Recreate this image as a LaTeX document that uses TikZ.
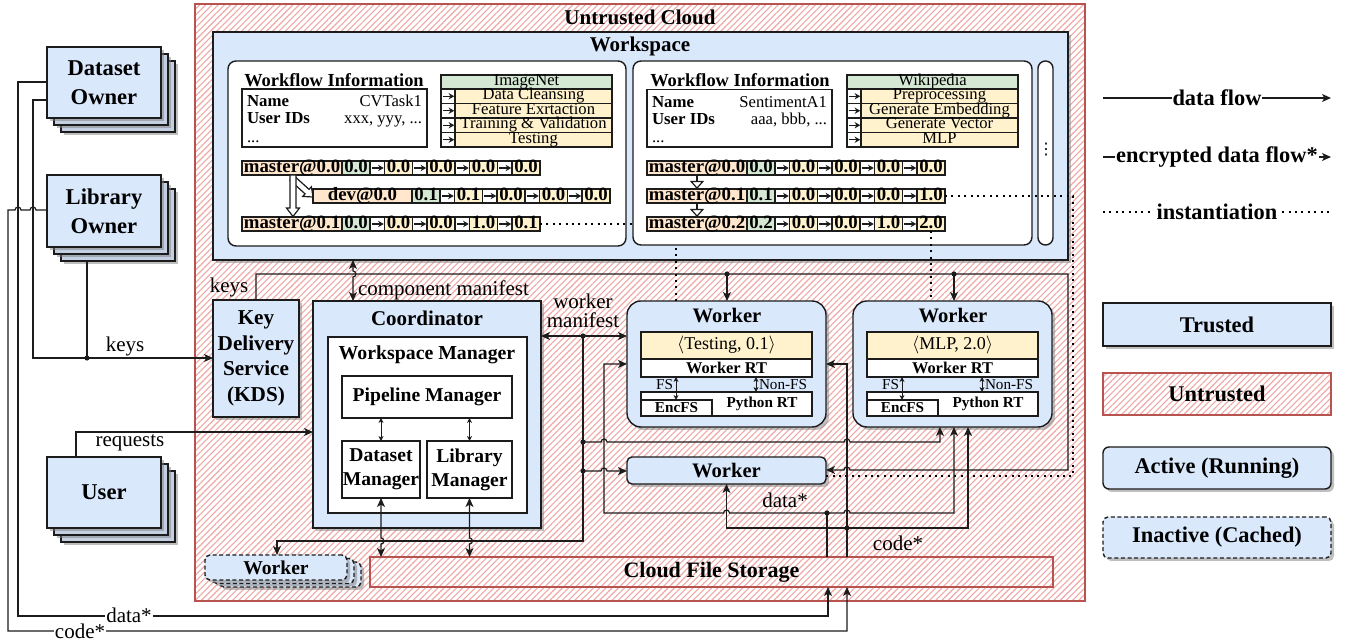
\documentclass[tikz,border=0pt]{standalone}
\usepackage{fontspec}
\setmainfont{Liberation Serif}
\newfontfamily\dvs{DejaVu Sans}
\usetikzlibrary{arrows.meta,shadows,patterns.meta}
\definecolor{blueF}{HTML}{DAE8FC}
\definecolor{redL}{HTML}{B85450}
\definecolor{hatchC}{HTML}{EFA8A5}
\definecolor{greenF}{HTML}{D5E8D4}
\definecolor{yellowF}{HTML}{FFF2CC}
\definecolor{peachF}{HTML}{FFE6CC}
\definecolor{stackF}{HTML}{C4D0E2}
\definecolor{lineC}{HTML}{1C1C1C}
\tikzset{
  every node/.style={inner sep=0pt, outer sep=0pt},
  bx/.style n args={4}{at={({((#1)+(#3))/2},{((#2)+(#4))/2})}, minimum width={((#3)-(#1))*0.5pt}, minimum height={((#4)-(#2))*0.5pt}},
  ln/.style={draw=lineC, line width=0.6pt},
  bw/.style={draw=lineC, line width=0.7pt},
  shad/.style={drop shadow={shadow xshift=1.5pt, shadow yshift=-1.5pt, fill=black!50, opacity=0.5}},
  trusted/.style={bw, fill=blueF, shad},
  stackbk/.style={bw, fill=stackF, shad},
  cachedst/.style={draw=lineC, line width=0.7pt, dash pattern=on 2pt off 1.3pt, fill=blueF, rounded corners=2.5pt, shad},
  untrusted/.style={draw=redL, line width=0.7pt, preaction={fill=white}, pattern={Lines[angle=45,distance=2.2pt,line width=0.55pt]}, pattern color=hatchC},
  panel/.style={bw, fill=white, rounded corners=4pt},
  wbox/.style={bw, fill=white},
  cell/.style={draw=lineC, line width=0.55pt, text height=5.3pt, text depth=1.6pt},
  vcell/.style={cell, font=\fontsize{9.4}{10}\selectfont\bfseries, text height=5.8pt, text depth=1.2pt},
  cellarr/.style={draw=lineC, line width=0.65pt, -{Stealth[length=2.8pt,width=3.2pt]}},
  smallarr/.style={line width=0.5pt, >={Stealth[length=2.4pt,width=2.4pt,inset=0.6pt]}},
  dotl/.style={draw=black, line width=1pt, dash pattern=on 1pt off 2.2pt},
  dot/.style={fill=lineC},
  hr/.style 2 args={insert path={-- (#1-3,#2) arc[start angle=180,end angle=0,radius=1.5pt]}},
  hl/.style 2 args={insert path={-- (#1+3,#2) arc[start angle=0,end angle=180,radius=1.5pt]}},
  hd/.style 2 args={insert path={-- (#1,#2-3) arc[start angle=90,end angle=-90,radius=1.5pt]}},
  fTitle/.style={font=\fontsize{10.5}{12}\selectfont\bfseries},
  fOwn/.style={font=\fontsize{11.3}{14.5}\selectfont\bfseries},
  fKDS/.style={font=\fontsize{10.6}{12.75}\selectfont\bfseries},
  fCoord/.style={font=\fontsize{10.5}{12}\selectfont\bfseries},
  fWSM/.style={font=\fontsize{9.9}{11}\selectfont\bfseries},
  fPM/.style={font=\fontsize{9.8}{12}\selectfont\bfseries},
  fW/.style={font=\fontsize{10.3}{12}\selectfont\bfseries},
  fCW/.style={font=\fontsize{9.8}{11}\selectfont\bfseries},
  fRT/.style={font=\fontsize{7.6}{9}\selectfont\bfseries},
  fWRT/.style={font=\fontsize{8.2}{9}\selectfont\bfseries},
  fSm/.style={font=\fontsize{7.6}{9}\selectfont},
  fTask/.style={font=\fontsize{9}{10}\selectfont},
  fLab/.style={font=\fontsize{10.5}{12}\selectfont},
  fLabT/.style={font=\fontsize{10.5}{9.5}\selectfont},
  fCFS/.style={font=\fontsize{11}{13}\selectfont\bfseries},
  fLeg/.style={font=\fontsize{11.2}{13}\selectfont\bfseries},
  fWI/.style={font=\fontsize{9.2}{10}\selectfont\bfseries},
  fName/.style={font=\fontsize{8.4}{10}\selectfont\bfseries},
  fVal/.style={font=\fontsize{8.3}{10}\selectfont},
  fStage/.style={font=\fontsize{8.3}{9}\selectfont},
}
\newcommand\stackbox[6]{%
  \node[stackbk, bx={#2+14}{#3+14}{#4+14}{#5+14}] (#1b2) {};
  \node[stackbk, bx={#2+7}{#3+7}{#4+7}{#5+7}] (#1b1) {};
  \node[trusted, bx={#2}{#3}{#4}{#5}, align=center, fOwn] (#1) {#6};
}
\newcommand\stagerow[4]{%
  \node[cell, fill=white, bx={#2}{#3}{#2+14}{#3+14.5}] (#1a) {};
  \node[cell, fill=yellowF, bx={#2+14}{#3}{#2+171}{#3+14.5}, fStage] (#1) {#4};
  \draw[cellarr] ([xshift=0.9pt]#1a.west) -- ([xshift=-0.4pt]#1a.east);
}
\newcommand\verrow[6]{%
  \node[vcell, fill=peachF, bx={#2}{#3}{#2+#4}{#3+14}] (#1l) {#5};
  \foreach \v [count=\i] in {#6} {%
    \ifnum\i=1\relax
      \node[vcell, fill=greenF, bx={#2+#4}{#3}{#2+#4+28}{#3+14}] (#1v1) {\v};
    \else
      \pgfmathsetmacro\ax{#2+#4+28+(\i-2)*42.5}%
      \node[vcell, fill=white, bx={\ax}{#3}{\ax+14.5}{#3+14}] (#1a\i) {};
      \node[vcell, fill=yellowF, bx={\ax+14.5}{#3}{\ax+42.5}{#3+14}] (#1v\i) {\v};
      \draw[cellarr] ([xshift=0.9pt]#1a\i.west) -- ([xshift=-0.4pt]#1a\i.east);
    \fi
  }%
}
\newcommand\worker[3]{%
  \node[trusted, rounded corners=7pt, bx={627+#2}{301}{826+#2}{427}] (#1) {};
  \node[fW] (#1t) at (727+#2,316) {Worker};
  \node[bw, fill=yellowF, bx={641+#2}{332}{812+#2}{359}, fTask] (#1k) {#3};
  \node[bw, fill=white, bx={641+#2}{359}{812+#2}{377}, fWRT] (#1r) {Worker RT};
  \node[bw, fill=white, bx={641+#2}{392}{812+#2}{416}] (#1p) {};
  \node[fRT] (#1pl) at (762+#2,404) {Python RT};
  \node[bw, fill=white, bx={641+#2}{400}{712+#2}{416}, fRT] (#1e) {EncFS};
  \draw[ln, smallarr, <->] (#1r.south -| 676+#2,0) -- (#1e.north -| 676+#2,0);
  \draw[ln, smallarr, <->] (#1r.south -| 756+#2,0) -- (#1p.north -| 756+#2,0);
  \node[fSm, anchor=east] (#1fs) at (673+#2,385) {FS};
  \node[fSm, anchor=west] (#1nfs) at (759+#2,385) {Non-FS};
}
\begin{document}
\begin{tikzpicture}[x=0.5pt,y=-0.5pt, >={Stealth[length=4.5pt,width=4pt,inset=1.2pt]}]
\useasboundingbox (0,0) rectangle (1345,640);
% ---- untrusted cloud & workspace
\node[untrusted, bx={195}{4}{1085}{601}] (cloud) {};
\node[fTitle] (cloudt) at (640,17) {Untrusted Cloud};
\node[trusted, bx={213}{32}{1068}{260}] (ws) {};
\node[fTitle] (wst) at (640,46) {Workspace};
% ---- components in the cloud
\node[trusted, bx={213}{300}{299}{417}, fKDS, align=center] (kds) {Key\\Delivery\\Service\\(KDS)};
\node[trusted, bx={313}{301}{541}{528}] (coord) {};
\node[fCoord] (coordt) at (427,318) {Coordinator};
\node[wbox, bx={328}{337}{527}{513}] (wsm) {};
\node[fWSM] (wsmt) at (427,355) {Workspace Manager};
\node[wbox, bx={342}{376}{512}{418}, fPM] (pm) {Pipeline Manager};
\node[wbox, bx={342}{441}{420}{498}, fPM, align=center] (dm) {Dataset\\Manager};
\node[wbox, bx={427}{441}{512}{498}, fPM, align=center] (lm) {Library\\Manager};
\draw[ln, smallarr, <->] (pm.south -| dm.south) -- (dm.north);
\draw[ln, smallarr, <->] (pm.south -| lm.south) -- (lm.north);
\worker{w1}{0}{$\langle$Testing, 0.1$\rangle$}
\worker{w2}{226}{$\langle$MLP, 2.0$\rangle$}
\node[trusted, rounded corners=2.5pt, bx={627}{457}{826}{484}, fW] (w3) {Worker};
\node[untrusted, bx={370}{557}{1053}{587}, fCFS] (cfs) {Cloud File Storage};
\node[cachedst, bx={219}{562}{361}{587}] (cwb2) {};
\node[cachedst, bx={212}{558.5}{354}{583.5}] (cwb1) {};
\node[cachedst, bx={205}{555}{347}{580}, fCW] (cw) {Worker};
% ---- panel 1
\node[panel, bx={228}{61}{626}{246}] (pan1) {};
\node[fWI] (p1wi) at (334,80) {Workflow Information};
\node[wbox, bx={242}{89}{427}{147}] (p1info) {};
\node[fName, anchor=base west] (p1n) at (247,107) {Name};
\node[fVal, anchor=base east] (p1nv) at (422,107) {CVTask1};
\node[fName, anchor=base west] (p1u) at (247,124) {User IDs};
\node[fVal, anchor=base east] (p1uv) at (422,124) {xxx, yyy, ...};
\node[fVal, anchor=base west] (p1d) at (247,143) {...};
\node[cell, fill=greenF, bx={441}{75}{612}{89}, fStage] (p1h) {ImageNet};
\stagerow{p1s1}{441}{89}{Data Cleansing}
\stagerow{p1s2}{441}{103.5}{Feature Exrtaction}
\stagerow{p1s3}{441}{118}{Training \& Validation}
\stagerow{p1s4}{441}{132.5}{Testing}
\verrow{p1r1}{242}{161}{100}{master@0.0}{0.0,0.0,0.0,0.0,0.0}
\verrow{p1r2}{313}{189}{99}{dev@0.0}{0.1,0.1,0.0,0.0,0.0}
\verrow{p1r3}{242}{217}{100}{master@0.1}{0.0,0.0,0.0,1.0,0.1}
% hollow branch arrows (drawn as outlines)
\draw[ln, fill=white] (294.01,175.77) -- (309.07,189.39) -- (311.42,186.80) -- (313,197) -- (302.70,196.44) -- (305.05,193.85) -- (289.99,180.23) -- cycle;
\draw[ln, fill=white] (290,175) -- (296,175) -- (296,208) -- (299.5,208) -- (293,216.5) -- (286.5,208) -- (290,208) -- cycle;
% instantiation to worker 1 (passes under panel 2)
\draw[dotl] (p1r3v5.east) -- (676,224) -- (w1.north -| 676,0);
% ---- panel 2 and 3
\node[panel, bx={633}{61}{1032}{245}] (pan2) {};
\node[panel, rounded corners=3.7pt, bx={1038}{61}{1053}{245}] (pan3) {};
\node[font=\dvs\fontsize{8}{9}\selectfont] (p3d) at (1046,150) {⋮};
\node[fWI] (p2wi) at (740,80) {Workflow Information};
\node[wbox, bx={647}{89.5}{832}{147}] (p2info) {};
\node[fName, anchor=base west] (p2n) at (652,107.5) {Name};
\node[fVal, anchor=base east] (p2nv) at (827,107.5) {SentimentA1};
\node[fName, anchor=base west] (p2u) at (652,124.5) {User IDs};
\node[fVal, anchor=base east] (p2uv) at (827,124.5) {aaa, bbb, ...};
\node[fVal, anchor=base west] (p2d) at (652,143) {...};
\node[cell, fill=greenF, bx={847}{75}{1018}{89}, fStage] (p2h) {Wikipedia};
\stagerow{p2s1}{847}{89}{Preprocessing}
\stagerow{p2s2}{847}{103.5}{Generate Embedding}
\stagerow{p2s3}{847}{118}{Generate Vector}
\stagerow{p2s4}{847}{132.5}{MLP}
\verrow{p2r1}{647}{161}{100}{master@0.0}{0.0,0.0,0.0,0.0,0.0}
\verrow{p2r2}{647}{189}{100}{master@0.1}{0.1,0.0,0.0,0.0,1.0}
\verrow{p2r3}{647}{217}{100}{master@0.2}{0.2,0.0,0.0,1.0,2.0}
\draw[ln, -{Triangle[open,length=4pt,width=7pt]}] (p2r1l.south) -- (p2r2l.north);
\draw[ln, -{Triangle[open,length=4pt,width=7pt]}] (p2r2l.south) -- (p2r3l.north);
\draw[dotl] (p2r3v5.south) -- (w2.north -| p2r3v5.south);
\draw[dotl] (p2r2v5.east) -- (1073,196) -- (1073,476) -- (w3.east |- 0,476);
% ---- outside actors
\stackbox{do}{47}{47}{161}{118}{Dataset\\Owner}
\stackbox{lo}{47}{175}{161}{247}{Library\\Owner}
\stackbox{us}{47}{457}{161}{528}{User}
% ---- connectors (outside)
\coordinate (jk) at (87,358);
\coordinate (lob) at (87,261);
\draw[ln, ->] (do.west |- 0,82) -- (18,82) -- (18,616) -- (828,616) -- (cfs.south -| 828,0);
\draw[ln, ->] (do.west |- 0,100) -- (33,100) -- (33,358) -- (kds.west |- 0,358);
\draw[ln, ->] (lo.west |- 0,210) [hl={33}{210}] [hl={18}{210}] -- (8,210) -- (8,631) -- (847,631) -- (cfs.south -| 847,0);
\draw[ln] (lob) -- (jk);
\fill[dot] (jk) circle[radius=1.3pt];
\node[fLab] (lkeys1) at (125,346) {keys};
\node[fLab, fill=white, inner sep=0.6pt] (ldata1) at (129,615) {data*};
\node[fLab, fill=white, inner sep=0.6pt] (lcode1) at (80,631) {code*};
\draw[ln, ->] (us.north -| 76,0) -- (76,432) -- (coord.west |- 0,432);
\node[fLab] (lreq) at (130,443) {requests};
% ---- connectors (cloud)
\coordinate (jt1) at (727,274);
\coordinate (jt2) at (954,274);
\draw[ln, ->] (kds.north -| 256,0) -- (256,274) -- (1068,274) -- (1068,470) [hl={847}{470}] -- (w3.east |- 0,470);
\draw[ln, ->] (jt1) -- (w1.north -| jt1);
\draw[ln, ->] (jt2) -- (w2.north -| jt2);
\fill[dot] (jt1) circle[radius=1.3pt];
\fill[dot] (jt2) circle[radius=1.3pt];
\node[fLab] (lkeys2) at (229,287) {keys};
\draw[ln, <->] (ws.south -| 353,0) [hd={353}{274}] -- (coord.north -| 353,0);
\node[fLab, anchor=west] (lcm) at (358,290) {component manifest};
\coordinate (jm) at (583,336);
\coordinate (j2) at (583,442);
\coordinate (j3) at (583,471);
\draw[ln, <->] (coord.east |- jm) -- (w1.west |- jm);
\node[fLabT, align=center] (lwm) at (583,311) {worker\\manifest};
\draw[ln, ->] (jm) -- (583,541) -- (277,541) -- (cw.north -| 277,0);
\draw[ln, <->] (dm.south) [hd={381}{541}] -- (dm.south |- cfs.north);
\draw[ln, <->] (lm.south) [hd={469.5}{541}] -- (lm.south |- cfs.north);
\draw[ln, ->] (j2) [hr={604}{442}] [hr={847}{442}] -- (940,442) -- (w2.south -| 940,0);
\draw[ln, ->] (j3) [hr={604}{471}] -- (w3.west |- j3);
\fill[dot] (jm) circle[radius=1.3pt];
\fill[dot] (j2) circle[radius=1.3pt];
\fill[dot] (j3) circle[radius=1.3pt];
\coordinate (jd) at (827,513);
\coordinate (jc) at (847,528);
\draw[ln, <->] (w1.west |- 0,364) -- (604,364) -- (604,513) [hr={726.5}{513}] [hr={847}{513}] -- (954,513) -- (w2.south -| 954,0);
\draw[ln] (cfs.north -| jd) -- (jd);
\draw[ln, ->] (cfs.north -| jc) -- (847,364) -- (w1.east |- 0,364);
\draw[ln, <->] (w3.south) -- (726.5,528) -- (968,528) -- (w2.south -| 968,0);
\fill[dot] (jd) circle[radius=1.3pt];
\fill[dot] (jc) circle[radius=1.3pt];
\node[fLab] (ldata2) at (785,500) {data*};
\node[fLab] (lcode2) at (898,543) {code*};
% ---- legend
\coordinate (lg1a) at (1103,98); \coordinate (lg1b) at (1331,98);
\coordinate (lg2a) at (1103,157); \coordinate (lg2b) at (1331,157);
\coordinate (lg3a) at (1103,212); \coordinate (lg3b) at (1331,212);
\draw[ln, ->] (lg1a) -- node[fill=white, fLeg, inner sep=0.5pt] (lg1t) {data flow} (lg1b);
\draw[ln, ->] (lg2a) -- node[fill=white, fLeg, inner sep=0.5pt] (lg2t) {encrypted data flow*} (lg2b);
\draw[dotl] (lg3a) -- node[fill=white, fLeg, inner sep=1.5pt] (lg3t) {instantiation} (lg3b);
\node[trusted, bx={1103}{303}{1331}{346}, fLeg] (lgt) {Trusted};
\node[untrusted, bx={1103}{373}{1331}{415}, fLeg] (lgu) {Untrusted};
\node[trusted, rounded corners=3pt, bx={1103}{447}{1331}{489}, fLeg] (lga) {Active (Running)};
\node[cachedst, bx={1103}{517}{1331}{558}, fLeg] (lgi) {Inactive (Cached)};
\end{tikzpicture}
\end{document}
